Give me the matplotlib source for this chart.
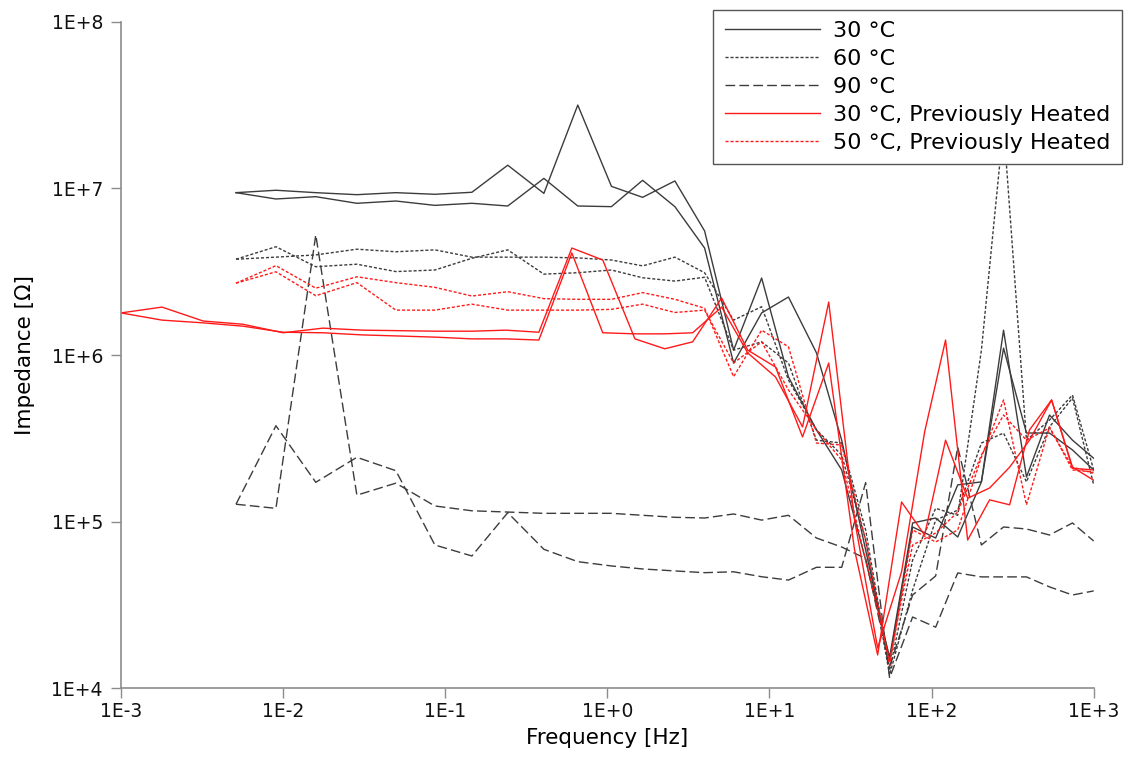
import math
import matplotlib
matplotlib.use('Agg')
import matplotlib.pyplot as plt
from matplotlib.ticker import FuncFormatter, FixedLocator, NullLocator

# frequency grids [Hz]
freq_a = [0.00512, 0.00903, 0.0159, 0.0285, 0.0496, 0.0863, 0.146, 0.243, 0.406, 0.657,
          1.06, 1.65, 2.61, 3.98, 6.01, 8.95, 13.1, 19.5, 27.9, 39.2,
          55.1, 76.4, 106, 145, 203, 278, 385, 534, 740, 1000]
freq_b = [0.001, 0.00179, 0.00321, 0.00565, 0.0100, 0.0176, 0.0310, 0.0525, 0.0876, 0.146,
          0.237, 0.378, 0.604, 0.937, 1.48, 2.26, 3.36, 5.07, 7.34, 10.9,
          16.0, 23.2, 33.5, 46.5, 65.3, 90.6, 122, 167, 228, 303,
          402, 550, 740, 1000]

# impedance [Ohm], two sweeps per condition
z_30_a = [9.44e6, 9.76e6, 9.44e6, 9.18e6, 9.44e6, 9.23e6, 9.49e6, 1.38e7, 9.35e6, 3.17e7,
          1.03e7, 8.85e6, 1.11e7, 5.56e6, 1.07e6, 2.90e6, 7.38e5, 3.55e5, 2.04e5, 5.87e4,
          1.53e4, 9.8e4, 1.05e5, 8.07e4, 1.73e5, 1.41e6, 1.85e5, 4.36e5, 3.08e5, 2.40e5]
z_30_b = [9.44e6, 8.65e6, 8.93e6, 8.15e6, 8.41e6, 7.92e6, 8.15e6, 7.85e6, 1.15e7, 7.85e6,
          7.78e6, 1.12e7, 7.78e6, 4.39e6, 8.95e5, 1.79e6, 2.23e6, 1.03e6, 3.08e5, 6.75e4,
          1.47e4, 9.27e4, 7.96e4, 1.66e5, 1.73e5, 1.10e6, 3.40e5, 3.40e5, 2.69e5, 2.04e5]
z_60_a = [3.76e6, 4.47e6, 3.39e6, 3.51e6, 3.17e6, 3.24e6, 3.81e6, 4.28e6, 3.06e6, 3.12e6,
          3.24e6, 2.91e6, 2.78e6, 2.93e6, 1.07e6, 1.20e6, 8.95e5, 3.08e5, 2.96e5, 8.9e4,
          1.28e4, 5.87e4, 1.20e5, 1.09e5, 1.07e6, 2.40e7, 3.08e5, 4.07e5, 5.75e5, 2.04e5]
z_60_b = [3.76e6, 3.87e6, 3.99e6, 4.32e6, 4.17e6, 4.28e6, 3.87e6, 3.87e6, 3.87e6, 3.83e6,
          3.72e6, 3.43e6, 3.87e6, 3.12e6, 1.62e6, 1.95e6, 7.08e5, 3.55e5, 2.51e5, 7.74e4,
          1.20e4, 3.88e4, 1.02e5, 1.17e5, 2.96e5, 3.40e5, 1.73e5, 3.70e5, 5.52e5, 1.66e5]
z_90_a = [1.27e5, 1.20e5, 5.26e6, 1.44e5, 1.70e5, 1.24e5, 1.16e5, 1.14e5, 1.12e5, 1.12e5,
          1.12e5, 1.09e5, 1.06e5, 1.05e5, 1.11e5, 1.02e5, 1.09e5, 7.96e4, 7.03e4, 6.0e4,
          1.34e4, 3.62e4, 4.71e4, 2.80e5, 7.23e4, 9.27e4, 9.02e4, 8.30e4, 9.80e4, 7.64e4]
z_90_b = [1.27e5, 3.76e5, 1.72e5, 2.43e5, 2.02e5, 7.23e4, 6.21e4, 1.13e5, 6.81e4, 5.74e4,
          5.41e4, 5.19e4, 5.05e4, 4.93e4, 4.99e4, 4.66e4, 4.45e4, 5.31e4, 5.31e4, 1.71e5,
          1.15e4, 2.67e4, 2.32e4, 4.91e4, 4.65e4, 4.65e4, 4.65e4, 4.05e4, 3.62e4, 3.83e4]
z_30h_a = [1.79e6, 1.94e6, 1.60e6, 1.53e6, 1.36e6, 1.45e6, 1.41e6, 1.40e6, 1.39e6, 1.39e6,
           1.41e6, 1.37e6, 4.39e6, 3.72e6, 1.25e6, 1.09e6, 1.20e6, 2.20e6, 1.07e6, 8.47e5,
           3.22e5, 8.95e5, 6.75e4, 1.58e4, 1.31e5, 8.3e4, 3.08e5, 1.38e5, 1.59e5, 2.12e5,
           3.08e5, 5.37e5, 2.09e5, 2.04e5]
z_30h_b = [1.79e6, 1.62e6, 1.56e6, 1.49e6, 1.37e6, 1.36e6, 1.32e6, 1.30e6, 1.28e6, 1.25e6,
           1.25e6, 1.23e6, 4.10e6, 1.36e6, 1.34e6, 1.34e6, 1.36e6, 1.94e6, 1.03e6, 7.38e5,
           3.70e5, 2.08e6, 1.02e5, 1.74e4, 4.98e4, 3.45e5, 1.23e6, 7.74e4, 1.35e5, 1.26e5,
           3.55e5, 5.37e5, 2.12e5, 1.77e5]
z_50h_a = [2.70e6, 3.44e6, 2.52e6, 2.95e6, 2.72e6, 2.55e6, 2.26e6, 2.40e6, 2.18e6, 2.16e6,
           2.16e6, 2.37e6, 2.16e6, 1.91e6, 7.41e5, 1.41e6, 1.12e6, 2.96e5, 2.88e5, 7.74e4,
           1.37e4, 8.9e4, 7.54e4, 8.9e4, 2.44e5, 5.37e5, 1.26e5, 3.70e5, 2.04e5, 1.98e5]
z_50h_b = [2.70e6, 3.16e6, 2.27e6, 2.72e6, 1.86e6, 1.86e6, 2.02e6, 1.86e6, 1.86e6, 1.86e6,
           1.88e6, 2.02e6, 1.80e6, 1.86e6, 8.95e5, 1.20e6, 6.17e5, 3.55e5, 2.34e5, 5.87e4,
           1.47e4, 7.23e4, 8.53e4, 1.14e5, 2.51e5, 4.36e5, 3.08e5, 3.65e5, 2.12e5, 1.95e5]

x_ticks = [1e-3, 1e-2, 1e-1, 1e0, 1e1, 1e2, 1e3]
y_ticks = [1e4, 1e5, 1e6, 1e7, 1e8]

black = '#3c3c3c'
red = '#ff1a1a'
dotted = (0, (2.2, 1.4))
dashed = (0, (7, 3))

fig = plt.figure(figsize=(11.31, 7.58), dpi=100)
ax = fig.add_axes([0.107, 0.0923, 0.860, 0.8787])

ax.plot(freq_a, z_30_a, color=black, lw=1.0, ls='-', label='30 °C')
ax.plot(freq_a, z_30_b, color=black, lw=1.0, ls='-')
ax.plot(freq_a, z_60_a, color=black, lw=1.0, ls=dotted, label='60 °C')
ax.plot(freq_a, z_60_b, color=black, lw=1.0, ls=dotted)
ax.plot(freq_a, z_90_a, color=black, lw=1.0, ls=dashed, label='90 °C')
ax.plot(freq_a, z_90_b, color=black, lw=1.0, ls=dashed)
ax.plot(freq_b, z_30h_a, color=red, lw=1.0, ls='-', label='30 °C, Previously Heated')
ax.plot(freq_b, z_30h_b, color=red, lw=1.0, ls='-')
ax.plot(freq_a, z_50h_a, color=red, lw=1.0, ls=dotted, label='50 °C, Previously Heated')
ax.plot(freq_a, z_50h_b, color=red, lw=1.0, ls=dotted)

ax.set_xscale('log')
ax.set_yscale('log')
ax.set_xlim(1e-3, 1e3)
ax.set_ylim(1e4, 1e8)


def exp_fmt(v, pos):
    e = int(round(math.log10(v)))
    return '1E%s%d' % ('+' if e >= 0 else '-', abs(e))


ax.xaxis.set_major_locator(FixedLocator(x_ticks))
ax.yaxis.set_major_locator(FixedLocator(y_ticks))
ax.xaxis.set_minor_locator(NullLocator())
ax.yaxis.set_minor_locator(NullLocator())
ax.xaxis.set_major_formatter(FuncFormatter(exp_fmt))
ax.yaxis.set_major_formatter(FuncFormatter(exp_fmt))

for side in ['top', 'right']:
    ax.spines[side].set_visible(False)
for side in ['left', 'bottom']:
    ax.spines[side].set_color('#8c8c8c')
    ax.spines[side].set_linewidth(1.2)
ax.tick_params(direction='out', length=7, width=1, color='#8c8c8c',
               labelsize=13.5, labelcolor='#111111')
ax.tick_params(axis='y', pad=6)
ax.tick_params(axis='x', pad=3)

ax.set_xlabel('Frequency [Hz]', fontsize=15.5, labelpad=5)
ax.set_ylabel('Impedance [Ω]', fontsize=15.5, labelpad=12)

leg = ax.legend(loc='upper right', bbox_to_anchor=(0.992, 0.987), bbox_transform=fig.transFigure,
                borderaxespad=0.0, fontsize=16, frameon=True, fancybox=False,
                handlelength=4.3, handletextpad=0.6, labelspacing=0.36, borderpad=0.5)
leg.get_frame().set_edgecolor('#555555')
leg.get_frame().set_linewidth(1.0)
leg.get_frame().set_alpha(1.0)

fig.savefig('out.png', dpi=100)
